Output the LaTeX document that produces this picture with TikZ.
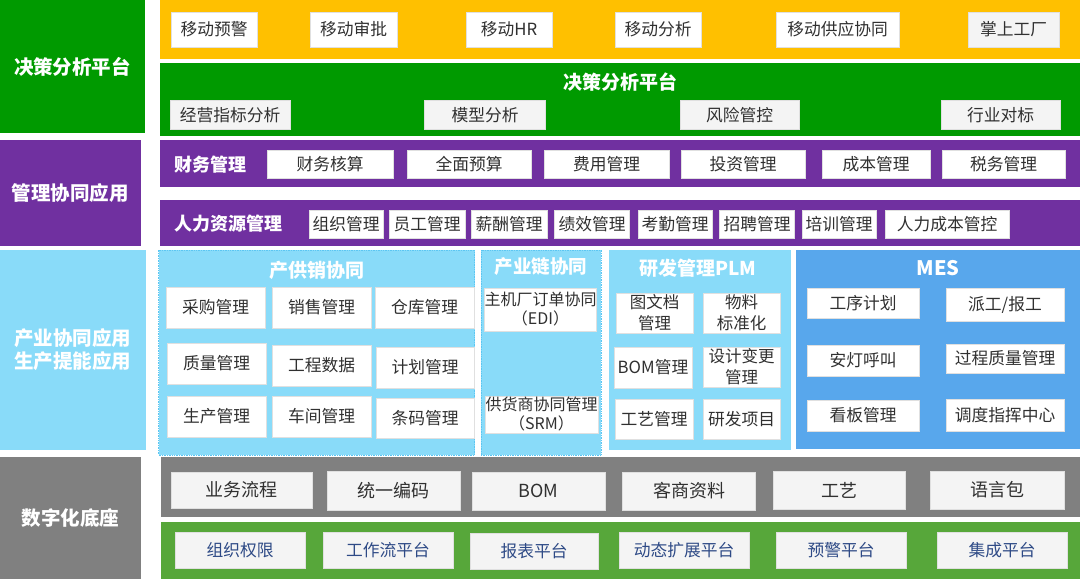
\documentclass[tikz,border=0pt]{standalone}
\usepackage{fontspec}
\setmainfont{Noto Sans CJK SC}
\usetikzlibrary{positioning}

\definecolor{cYellow}{HTML}{FFC000}
\definecolor{cGreen}{HTML}{009A00}
\definecolor{cPurple}{HTML}{7030A0}
\definecolor{cSky}{HTML}{89DBF9}
\definecolor{cSkyLine}{HTML}{5CC6F2}
\definecolor{cMes}{HTML}{58A7EC}
\definecolor{cGray}{HTML}{808080}
\definecolor{cLeaf}{HTML}{57A73A}
\definecolor{cPale}{HTML}{F4F4F4}
\definecolor{cInk}{HTML}{303030}
\definecolor{cNavy}{HTML}{2E4A86}

\newcommand{\sidefont}{\fontsize{19.5}{23}\selectfont\bfseries}
\newcommand{\ttlfont}{\fontsize{19}{22}\selectfont\bfseries}
\newcommand{\itmfont}{\fontsize{16.75}{20}\selectfont}
\newcommand{\basefont}{\fontsize{18}{21}\selectfont}

\begin{document}
\begin{tikzpicture}[x=1pt, y=-1pt,
    % Estilos
    sz/.style 2 args={minimum width=#1pt, minimum height=#2pt},
    band/.style={fill=#1, draw=none, inner sep=0pt, outer sep=0pt},
    side/.style={band=#1, text=white, font=\sidefont, align=center},
    ttl/.style={text=white, font=\ttlfont, inner sep=0pt},
    item/.style={
        fill=white, draw=black!12, line width=0.6pt, inner sep=0pt,
        text=cInk, font=\itmfont, align=center
    },
    soft/.style={item, fill=cPale},
    basebox/.style={soft, font=\basefont},
    plat/.style={soft, text=cNavy},
    panel/.style={band=#1},
    dotpanel/.style={fill=cSky, draw=cSkyLine, densely dotted, line width=0.7pt, inner sep=0pt}
]
\useasboundingbox[fill=white] (0,0) rectangle (1080,579);

% =============================================
% COLUMNA IZQUIERDA
% =============================================
\node[side=cGreen,  sz={145}{133}] (sDecision) at (72.5,66.5) {决策分析平台};
\node[side=cPurple, sz={141}{106}] (sManage)   at (70.5,193)  {管理协同应用};
\node[side=cSky,    sz={146}{200}] (sIndustry) at (73,350)    {产业协同应用\\生产提能应用};
\node[side=cGray,   sz={141}{122}] (sBase)     at (70.5,518)  {数字化底座};

% =============================================
% MOVIL
% =============================================
\node[band=cYellow, sz={920}{59}] (mobileBand) at (620,29.5) {};
\node[item, sz={86}{35}]  (mWarn)     at (214,29.5)    {移动预警};
\node[item, sz={87}{35}]  (mApprove)  at (353.5,29.5)  {移动审批};
\node[item, sz={86}{35}]  (mHR)       at (509,29.5)    {移动HR};
\node[item, sz={86}{35}]  (mAnalysis) at (658,29.5)    {移动分析};
\node[item, sz={123}{35}] (mSupply)   at (837.5,29.5)  {移动供应协同};
\node[soft, sz={91}{35}]  (mFactory)  at (1013.5,29.5) {掌上工厂};

% =============================================
% DECISION
% =============================================
\node[band=cGreen, sz={920}{73}] (decisionBand) at (620,99.5) {};
\node[ttl] (decisionTitle) at (620,82) {决策分析平台};
\node[soft, sz={120}{29}] (dKPI)   at (230,115)    {经营指标分析};
\node[soft, sz={121}{29}] (dModel) at (485,115)    {模型分析};
\node[soft, sz={119}{29}] (dRisk)  at (739.5,115)  {风险管控};
\node[soft, sz={119}{29}] (dBench) at (1000.5,115) {行业对标};

% =============================================
% GESTION
% =============================================
\node[band=cPurple, sz={920}{46.5}] (financeBand) at (620,163.25) {};
\node[ttl, font={\fontsize{18}{21}\selectfont\bfseries}] (fLabel) at (210,165) {财务管理};
\node[item, sz={126}{28}] (fAcct)    at (330,164)    {财务核算};
\node[item, sz={124}{28}] (fBudget)  at (469,164)    {全面预算};
\node[item, sz={125}{28}] (fExpense) at (606.5,164)  {费用管理};
\node[item, sz={124}{28}] (fInvest)  at (743,164)    {投资管理};
\node[item, sz={108}{28}] (fCost)    at (876,164)    {成本管理};
\node[item, sz={123}{28}] (fTax)     at (1003.5,164) {税务管理};

\node[band=cPurple, sz={920}{46}] (hrBand) at (620,223) {};
\node[ttl, font={\fontsize{18}{21}\selectfont\bfseries}] (hLabel) at (228,224) {人力资源管理};
\node[item, sz={74}{28}]  (hOrg)     at (346,224) {组织管理};
\node[item, sz={76}{28}]  (hStaff)   at (427,224) {员工管理};
\node[item, sz={76}{28}]  (hPay)     at (509,224) {薪酬管理};
\node[item, sz={75}{28}]  (hPerf)    at (592,224) {绩效管理};
\node[item, sz={74}{28}]  (hAttend)  at (675,224) {考勤管理};
\node[item, sz={75}{28}]  (hRecruit) at (757,224) {招聘管理};
\node[item, sz={74}{28}]  (hTrain)   at (839,224) {培训管理};
\node[item, sz={124}{28}] (hCost)    at (947,224) {人力成本管控};

% =============================================
% INDUSTRIA
% =============================================
% produccion-suministro-ventas
\node[dotpanel, sz={316}{205}] (cxPanel) at (316.5,352.5) {};
\node[ttl] (cxTitle) at (317,270) {产供销协同};
\node[item, sz={99}{41}] (cBuy)     at (215.5,307.5) {采购管理};
\node[item, sz={99}{41}] (cSell)    at (321.5,307.5) {销售管理};
\node[item, sz={99}{41}] (cStore)   at (424.5,307.5) {仓库管理};
\node[item, sz={99}{41}] (cQuality) at (216.5,363.5) {质量管理};
\node[item, sz={99}{41}] (cEng)     at (321.5,365.5) {工程数据};
\node[item, sz={98}{41}] (cPlan)    at (425,367.5)   {计划管理};
\node[item, sz={99}{41}] (cProd)    at (216.5,416.5) {生产管理};
\node[item, sz={99}{41}] (cShop)    at (321.5,416.5) {车间管理};
\node[item, sz={98}{40}] (cCode)    at (425,418)     {条码管理};

% cadena
\node[dotpanel, sz={120}{205}] (chainPanel) at (541,352.5) {};
\node[ttl, font={\fontsize{18.5}{21}\selectfont\bfseries}] (chainTitle) at (541,267) {产业链协同};
\node[item, sz={111}{43}, font={\fontsize{16}{19}\selectfont}] (chainEDI) at (540.5,309.5) {主机厂订单协同\\（EDI）};
\node[item, sz={113}{37}, font={\fontsize{16}{19}\selectfont}] (chainSRM) at (541.5,414.5) {供货商协同管理\\（SRM）};

% PLM
\node[panel=cSky, sz={182}{200}] (plmPanel) at (700,350) {};
\node[ttl] (plmTitle) at (698,268) {研发管理PLM};
\node[item, sz={77}{40}, font={\fontsize{16.5}{21}\selectfont}] (pDoc)    at (654.5,313) {图文档\\管理};
\node[item, sz={77}{40}, font={\fontsize{16.5}{21}\selectfont}] (pMat)    at (741.5,313) {物料\\标准化};
\node[item, sz={78}{41}] (pBOM) at (653,367.5) {BOM管理};
\node[item, sz={77}{40}, font={\fontsize{16.5}{21}\selectfont}] (pChange) at (741.5,367) {设计变更\\管理};
\node[item, sz={78}{40}] (pCraft) at (654,419)   {工艺管理};
\node[item, sz={77}{40}] (pProj)  at (741.5,419) {研发项目};

% MES
\node[panel=cMes, sz={284}{199}] (mesPanel) at (938,349.5) {};
\node[ttl, font={\fontsize{20}{22}\selectfont\bfseries}] (mesTitle) at (938,268) {MES};
\node[item, sz={112}{30}] (eSeq)      at (863,303)    {工序计划};
\node[item, sz={118}{33}] (eDispatch) at (1005,304.5) {派工/报工};
\node[item, sz={112}{31}] (eAndon)    at (863,360.5)  {安灯呼叫};
\node[item, sz={118}{29}] (eQuality)  at (1005,358.5) {过程质量管理};
\node[item, sz={112}{31}] (eBoard)    at (863,415.5)  {看板管理};
\node[item, sz={118}{32}] (eCommand)  at (1005,415)   {调度指挥中心};

% =============================================
% BASE DIGITAL
% =============================================
\node[band=cGray, sz={919}{60}] (baseBand) at (620.5,487) {};
\node[basebox, sz={141}{36}] (bFlow)   at (241.5,490) {业务流程};
\node[basebox, sz={133}{39}] (bCode)   at (393.5,490.5) {统一编码};
\node[basebox, sz={133}{38}] (bBOM)    at (538.5,491) {BOM};
\node[basebox, sz={133}{38}] (bClient) at (689,491)   {客商资料};
\node[basebox, sz={132}{38}] (bCraft)  at (839,490)   {工艺};
\node[basebox, sz={134}{38}] (bLang)   at (997,490)   {语言包};

\node[band=cLeaf, sz={919}{57}] (platBand) at (620.5,550.5) {};
\node[plat, sz={130}{36}] (gOrg)    at (240,550)  {组织权限};
\node[plat, sz={130}{36}] (gFlow)   at (388,550)  {工作流平台};
\node[plat, sz={128}{36}] (gReport) at (534,551)  {报表平台};
\node[plat, sz={130}{36}] (gExt)    at (684,550)  {动态扩展平台};
\node[plat, sz={130}{36}] (gAlert)  at (841,550)  {预警平台};
\node[plat, sz={130}{36}] (gInteg)  at (1002,550) {集成平台};

\end{tikzpicture}
\end{document}
